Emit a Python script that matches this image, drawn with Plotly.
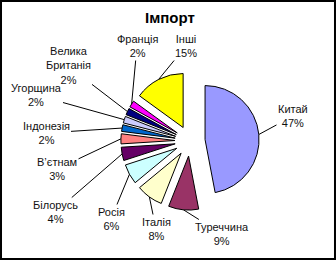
import math
import plotly.graph_objects as go

# ---- data ----
countries = ["Китай", "Туреччина", "Італія", "Росія", "Білорусь", "В’єтнам",
             "Індонезія", "Угорщина", "Велика Британія", "Франція", "Інші"]
shares = [47, 9, 8, 6, 4, 3, 2, 2, 2, 2, 15]
label_text = ["Китай", "Туреччина", "Італія", "Росія", "Білорусь", "В’єтнам",
              "Індонезія", "Угорщина", "Велика<br>Британія", "Франція", "Інші"]
colors = ["#9999FF", "#993366", "#FFFFCC", "#CCFFFF", "#660066", "#FF8080",
          "#0066CC", "#CCCCFF", "#000080", "#FF00FF", "#FFFF00"]

# ---- layout settings ----
W, H = 336, 260
PULL = 0.28
CX, CY = 190, 141          # pie centre in px
R = 54                     # pie radius in px
side = 2 * R * (1 + PULL)
dom_x = [(CX - side / 2) / W, (CX + side / 2) / W]
dom_y = [(H - CY - side / 2) / H, (H - CY + side / 2) / H]

# label text-box centres (px), layout only
label_pos = [(293, 116), (222, 234), (156, 229), (111, 219), (55, 212),
             (57, 169), (46, 133), (36, 95), (68, 66), (137, 46), (186, 46)]

fig = go.Figure(go.Pie(
    labels=countries, values=shares, sort=False, direction="clockwise",
    rotation=0, pull=[PULL] * len(shares), textinfo="none",
    marker=dict(colors=colors, line=dict(color="#000000", width=1)),
    domain=dict(x=dom_x, y=dom_y), showlegend=False, hoverinfo="label+percent",
))

total = sum(shares)
annotations = []
cum = 0
for name, v, (lx, ly) in zip(label_text, shares, label_pos):
    mid = (cum + v / 2) / total * 2 * math.pi
    cum += v
    dist = R * (1 + PULL)
    ex = CX + dist * math.sin(mid)
    ey = CY - dist * math.cos(mid)
    pct = round(v / total * 100)
    annotations.append(dict(
        x=ex / W, y=1 - ey / H, xref="paper", yref="paper",
        ax=lx - ex, ay=ly - ey, axref="pixel", ayref="pixel",
        text=f"{name}<br>{pct}%", showarrow=True, arrowhead=0,
        arrowwidth=1, arrowcolor="#000000", standoff=0,
        font=dict(family="Arial, Liberation Sans", size=11, color="#111111"),
        align="center",
    ))

annotations.append(dict(
    x=170 / W, y=1 - 18 / H, xref="paper", yref="paper", showarrow=False,
    xanchor="center", yanchor="middle",
    text="<b>Імпорт</b>", font=dict(family="Arial, Liberation Sans", size=15, color="#000000"),
))

fig.update_layout(
    width=W, height=H, margin=dict(l=0, r=0, t=0, b=0),
    paper_bgcolor="#FFFFFF", plot_bgcolor="#FFFFFF",
    annotations=annotations,
    shapes=[dict(type="rect", xref="paper", yref="paper", x0=0.003, y0=0.004,
                 x1=0.997, y1=0.996, line=dict(color="#000000", width=2))],
)

fig.write_html("out.html")
